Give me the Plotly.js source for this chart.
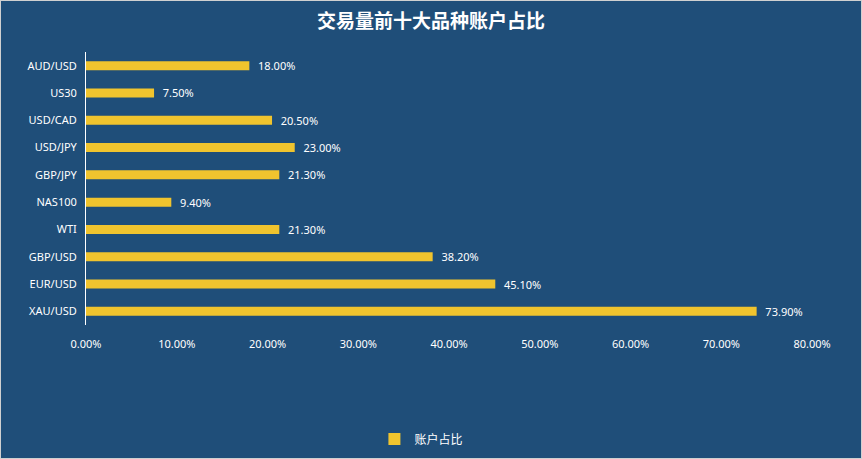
<!DOCTYPE html>
<html><head><meta charset="utf-8">
<script src="https://cdn.plot.ly/plotly-3.0.1.min.js"></script>
<style>html,body{margin:0;padding:0;background:#1f4e79;}#c{width:860px;height:457px;border:1px solid #d0d0d0;}</style>
</head><body><div id="c"></div>
<script>
var categories = ["AUD/USD","US30","USD/CAD","USD/JPY","GBP/JPY","NAS100","WTI","GBP/USD","EUR/USD","XAU/USD"];
var shares = [0.18,0.075,0.205,0.23,0.213,0.094,0.213,0.382,0.451,0.739];
var seriesName = "账户占比";
var titleText = "交易量前十大品种账户占比";

var trace = {
  type:'bar', orientation:'h', x:shares, y:categories, name:seriesName,
  marker:{color:'#f0c42e'}, width:0.33,
  texttemplate:'  %{x:.2%}', textposition:'outside', cliponaxis:false, constraintext:'none',
  textfont:{color:'#ffffff', size:11, family:'"Noto Sans", sans-serif'},
  hoverinfo:'none'
};
var layout = {
  width:860, height:457,
  paper_bgcolor:'#1f4e79', plot_bgcolor:'#1f4e79',
  margin:{l:85, r:49, t:51, b:133},
  title:{text:titleText, x:0.5, xanchor:'center', y:1-20/457, yanchor:'middle', yref:'container',
    font:{family:'"Noto Sans CJK SC", sans-serif', size:19, color:'#ffffff', weight:'bold'}},
  xaxis:{range:[0,0.8], dtick:0.1, tickformat:'.2%', showgrid:false, zeroline:false, showline:false, automargin:false, tickangle:0,
    tickfont:{color:'#ffffff', size:11, family:'"Noto Sans", sans-serif'}, ticks:'outside', ticklen:9, tickcolor:'rgba(0,0,0,0)'},
  yaxis:{type:'category', autorange:'reversed', showgrid:false, zeroline:false, showline:true, linecolor:'#ffffff', linewidth:1,
    ticks:'', ticklabelstandoff:6, automargin:false,
    tickfont:{color:'#ffffff', size:11, family:'"Noto Sans", sans-serif'}},
  showlegend:true,
  legend:{orientation:'h', x:0.462, xanchor:'center', yref:'container', y:1-438/457, yanchor:'middle', itemwidth:30,
    font:{color:'#ffffff', size:12, family:'"Noto Sans CJK SC", sans-serif'}, bgcolor:'rgba(0,0,0,0)'}
};
Plotly.newPlot('c',[trace],layout,{staticPlot:true, displayModeBar:false});
</script></body></html>
